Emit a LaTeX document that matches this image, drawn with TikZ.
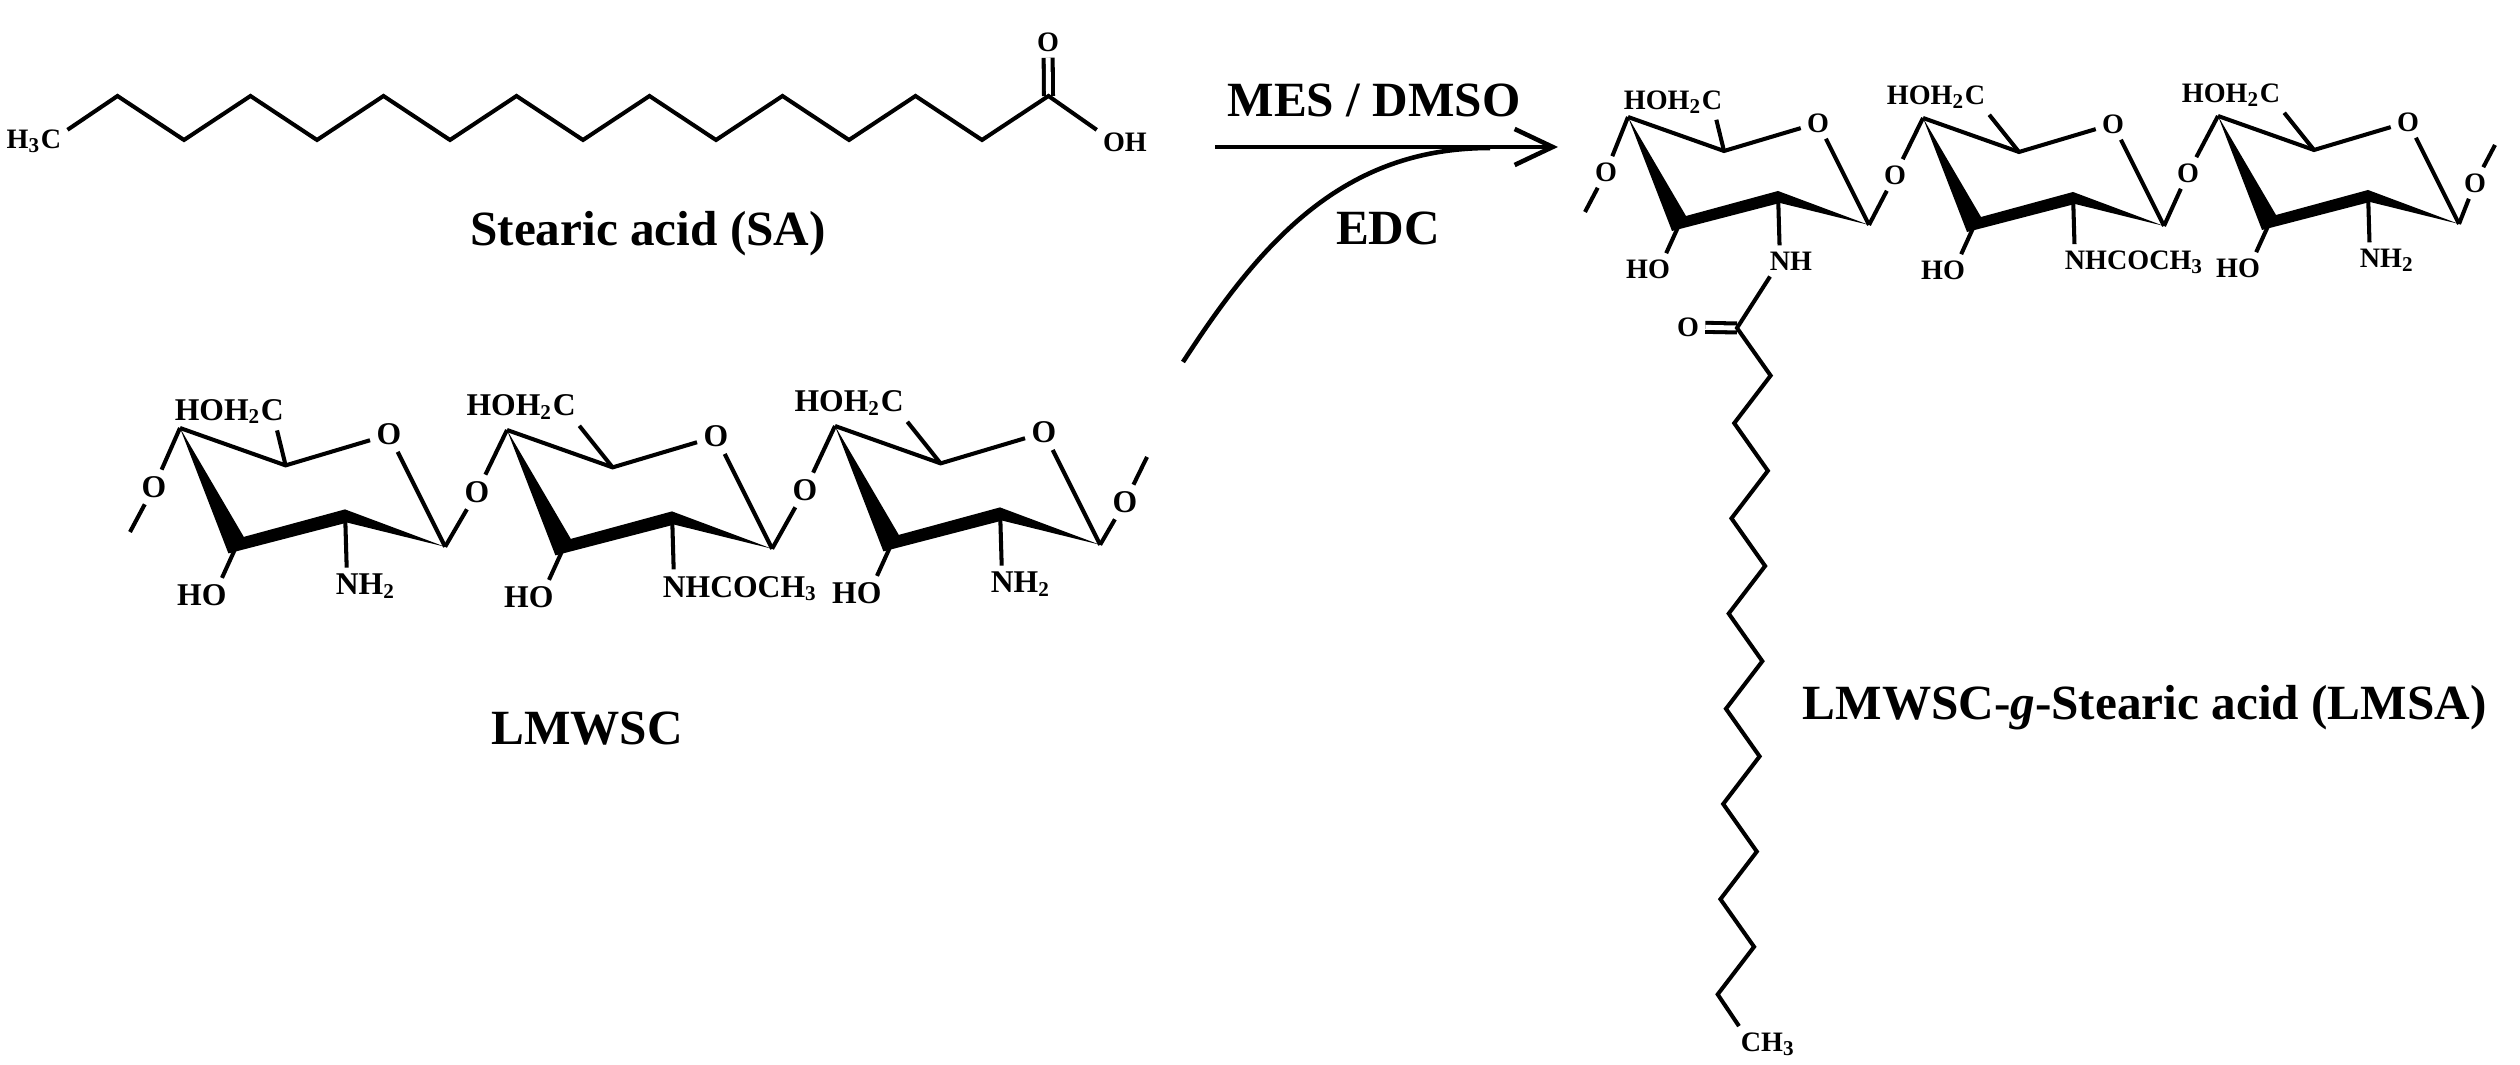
\documentclass[tikz,border=0pt]{standalone}
\usepackage{fontspec}
\setmainfont{Liberation Serif}
\usepackage{tikz}
\usetikzlibrary{arrows.meta}

\tikzset{
  atom/.style={inner sep=1.6pt,font=\bfseries\fontsize{8}{9}\selectfont},
  atombig/.style={inner sep=1.7pt,font=\bfseries\fontsize{9}{10}\selectfont},
  title/.style={inner sep=0pt,font=\bfseries\fontsize{14}{16}\selectfont},
  bond/.style={line width=1.15pt},
  dbond/.style={bond,double,double distance=1.4pt},
}

% one sugar unit, C4 at the origin
\newcommand{\sugarring}[5]{%
  \begin{scope}[shift={#2},scale=#3,name prefix=#1-]
    \coordinate (c4) at (0,0);
    \coordinate (c5) at (96,34);
    \coordinate (c1) at (241,108);
    \coordinate (c2) at (150,75);
    \coordinate (c3) at (51,108);
    \node[atom] (o) at (190,6) {O};
    \node[atom] (ch) at #4 {\llap{HOH\textsubscript{2}}C};
    \node[atom] (ho) at (31,152) {\llap{H}O};
    \node[atom] (n) at (152,144) {#5};
    \fill (c4) -- (44,114) -- (152,86) -- (c1) -- (150,74) -- (58,99) -- cycle;
    \draw[bond] (c4) -- (c5) -- (o) -- (c1);
    \draw[bond] (c5) -- (ch);
    \draw[bond] (c3) -- (ho);
    \draw[bond] (c2) -- (n);
  \end{scope}}

\begin{document}
\begin{tikzpicture}[x=0.01cm,y=-0.01cm]
\useasboundingbox (0,0) rectangle (2520,1065);

% stearic acid
\node[atom] (h3c) at (51,141) {\llap{H\textsubscript{3}}C};
\foreach \i in {1,...,15}
  \coordinate (sa\i) at ({51+66.5*\i},{140-44*mod(\i,2)});
\node[atom] (saO) at (1048,42) {O};
\node[atom] (saOH) at (1114,142) {O\rlap{H}};
\draw[dbond] (sa15) -- (saO);
\draw[bond] (h3c) -- (sa1) \foreach \i in {2,...,15}{ -- (sa\i)} -- (saOH);
\node[title,anchor=base] (salabel) at (648,246) {Stearic acid (SA)};

% LMWSC
\begin{scope}[atom/.style={atombig}]
  \sugarring{L1}{(180,428)}{1.1}{(84,-15)}{N\rlap{H\textsubscript{2}}}
  \sugarring{L2}{(507,430)}{1.1}{(52,-21)}{N\rlap{HCOCH\textsubscript{3}}}
  \sugarring{L3}{(835,426)}{1.1}{(52,-21)}{N\rlap{H\textsubscript{2}}}
  \node[atom] (L0-o) at (154,487) {O};
  \node[atom] (L1-go) at (477,492) {O};
  \node[atom] (L2-go) at (805,490) {O};
  \node[atom] (L3-o) at (1125,502) {O};
  \coordinate (L0-end) at (130,532);
  \coordinate (L3-end) at (1147,457);
  \draw[bond] (L0-end) -- (L0-o) -- (L1-c4);
  \draw[bond] (L1-c1) -- (L1-go) -- (L2-c4);
  \draw[bond] (L2-c1) -- (L2-go) -- (L3-c4);
  \draw[bond] (L3-c1) -- (L3-o) -- (L3-end);
\end{scope}
\node[title,anchor=base] (lmwsc) at (587,745) {LMWSC};

% reaction arrow
\coordinate (arrA) at (1215,147);
\coordinate (arrB) at (1558,147);
\coordinate (edcA) at (1183,362);
\coordinate (edcB) at (1490,148);
\draw[line width=1.3pt,-{Straight Barb[length=3.8mm,width=3.6mm]}] (arrA) -- (arrB);
\draw[line width=1.3pt] (edcA) .. controls (1262,240) and (1344,148) .. (edcB);
\node[title,anchor=base] (mes) at (1374,117) {MES / DMSO};
\node[title,anchor=base] (edc) at (1388,245) {EDC};

% LMSA
\sugarring{P1}{(1628,117)}{1}{(84,-15)}{N\rlap{H}}
\sugarring{P2}{(1923,118)}{1}{(52,-21)}{N\rlap{HCOCH\textsubscript{3}}}
\sugarring{P3}{(2218,116)}{1}{(52,-21)}{N\rlap{H\textsubscript{2}}}
\node[atom] (P0-o) at (1606,172) {O};
\node[atom] (P1-go) at (1895,175) {O};
\node[atom] (P2-go) at (2188,173) {O};
\node[atom] (P3-o) at (2475,183) {O};
\coordinate (P0-end) at (1585,212);
\coordinate (P3-end) at (2495,145);
\draw[bond] (P0-end) -- (P0-o) -- (P1-c4);
\draw[bond] (P1-c1) -- (P1-go) -- (P2-c4);
\draw[bond] (P2-c1) -- (P2-go) -- (P3-c4);
\draw[bond] (P3-c1) -- (P3-o) -- (P3-end);

% grafted chain
\foreach \k in {0,...,14}
  \coordinate (v\k) at ({1737-1.38*\k+35*mod(\k,2)},{328+47.6*\k});
\node[atom] (pO) at (1688,327) {O};
\node[atom] (ch3) at (1751,1044) {C\rlap{H\textsubscript{3}}};
\draw[dbond] (v0) -- (pO);
\draw[bond] (P1-n) -- (v0) \foreach \k in {1,...,14}{ -- (v\k)} -- (ch3);
\node[title,anchor=base west] (lmsa) at (1802,720) {LMWSC-\textit{g}-Stearic acid (LMSA)};
\end{tikzpicture}
\end{document}
